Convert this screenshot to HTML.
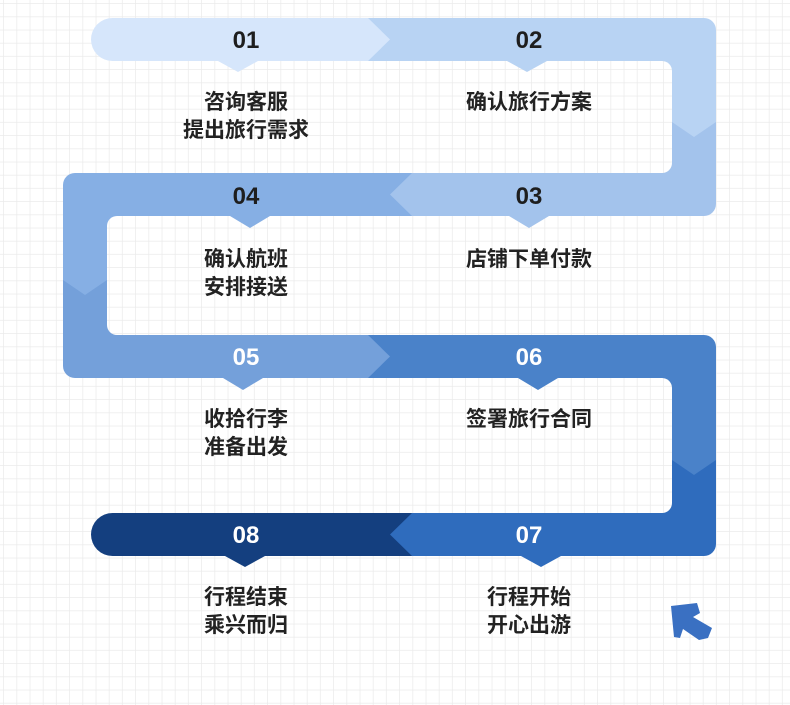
<!DOCTYPE html>
<html><head><meta charset="utf-8"><style>
html,body{margin:0;padding:0;background:#fff;}
svg{display:block}
text{font-family:"Liberation Sans","Noto Sans CJK SC",sans-serif;font-weight:bold;}
</style></head><body>
<svg width="790" height="705" viewBox="0 0 790 705" xmlns="http://www.w3.org/2000/svg">
<defs>
<pattern id="g" width="13.2" height="13.2" patternUnits="userSpaceOnUse" x="4" y="4">
<path d="M13.2 0V13.2M0 13.2H13.2" stroke="#ebebeb" stroke-width="1.5" fill="none"/>
</pattern>
<mask id="m">
<rect width="790" height="705" fill="#000"/>
<g fill="#fff">
<rect x="91" y="18" width="300" height="43" rx="21.5"/>
<rect x="300" y="18" width="416" height="198" rx="12"/>
<rect x="63" y="173" width="400" height="205" rx="12"/>
<rect x="200" y="173" width="300" height="43"/>
<rect x="300" y="335" width="416" height="221" rx="12"/>
<rect x="200" y="335" width="200" height="43"/>
<rect x="91" y="513" width="400" height="43" rx="21.5"/>
<rect x="300" y="513" width="200" height="43"/>
</g>
<g fill="#000">
<rect x="-20" y="61" width="692" height="112" rx="10"/>
<rect x="107" y="216" width="800" height="119" rx="10"/>
<rect x="-20" y="378" width="692" height="135" rx="10"/>
</g>
</mask>
</defs>
<rect width="790" height="705" fill="#fff"/>
<rect width="790" height="705" fill="url(#g)"/>
<g mask="url(#m)">
<rect width="790" height="705" fill="#2f6cbd"/>
<polygon points="0,0 790,0 790,460 716,460 694,475 672,460 0,460" fill="#4a82c9"/>
<polygon points="412,500 412,513 390,534.5 412,556 412,600 0,600 0,500" fill="#143f7f"/>
<polygon points="0,0 368,0 368,335 390,356.5 368,378 368,450 0,450" fill="#74a0da"/>
<polygon points="0,0 790,0 790,280 107,280 85,295 63,280 0,280" fill="#86afe4"/>
<polygon points="412,100 412,173 390,194.5 412,216 412,260 790,260 790,100" fill="#a3c3ec"/>
<polygon points="0,0 790,0 790,122 716,122 694,137 672,122 0,122" fill="#b8d3f3"/>
<polygon points="0,0 368,0 368,18 390,39.5 368,61 368,100 0,100" fill="#d6e6fb"/>
</g>
<polygon points="218,61 258,61 238,72" fill="#d6e6fb"/>
<polygon points="507,61 547,61 527,72" fill="#b8d3f3"/>
<polygon points="509,216 549,216 529,228" fill="#a3c3ec"/>
<polygon points="230,216 270,216 250,228" fill="#86afe4"/>
<polygon points="223,378 263,378 243,390" fill="#74a0da"/>
<polygon points="518,378 558,378 538,390" fill="#4a82c9"/>
<polygon points="521,556 561,556 541,567" fill="#2f6cbd"/>
<polygon points="225,556 265,556 245,567" fill="#143f7f"/>
<g font-size="24" text-anchor="middle">
<text x="246" y="48" fill="#1e1e1e">01</text>
<text x="529" y="48" fill="#1e1e1e">02</text>
<text x="529" y="204" fill="#1e1e1e">03</text>
<text x="246" y="204" fill="#1e1e1e">04</text>
<text x="246" y="365" fill="#fff">05</text>
<text x="529" y="365" fill="#fff">06</text>
<text x="529" y="543" fill="#fff">07</text>
<text x="246" y="543" fill="#fff">08</text>
</g>
<g font-size="21" text-anchor="middle" fill="#222">
<text x="246" y="109">咨询客服</text>
<text x="246" y="137">提出旅行需求</text>
<text x="529" y="109">确认旅行方案</text>
<text x="246" y="266">确认航班</text>
<text x="246" y="294">安排接送</text>
<text x="529" y="266">店铺下单付款</text>
<text x="246" y="426">收拾行李</text>
<text x="246" y="454">准备出发</text>
<text x="529" y="426">签署旅行合同</text>
<text x="246" y="604">行程结束</text>
<text x="246" y="632">乘兴而归</text>
<text x="529" y="604">行程开始</text>
<text x="529" y="632">开心出游</text>
</g>
<polygon points="671,606 697,603 700,613 693,617 712,628 708,638 699,640 683,629 680,638 674,637" fill="#3a70c2"/>
</svg>
</body></html>
